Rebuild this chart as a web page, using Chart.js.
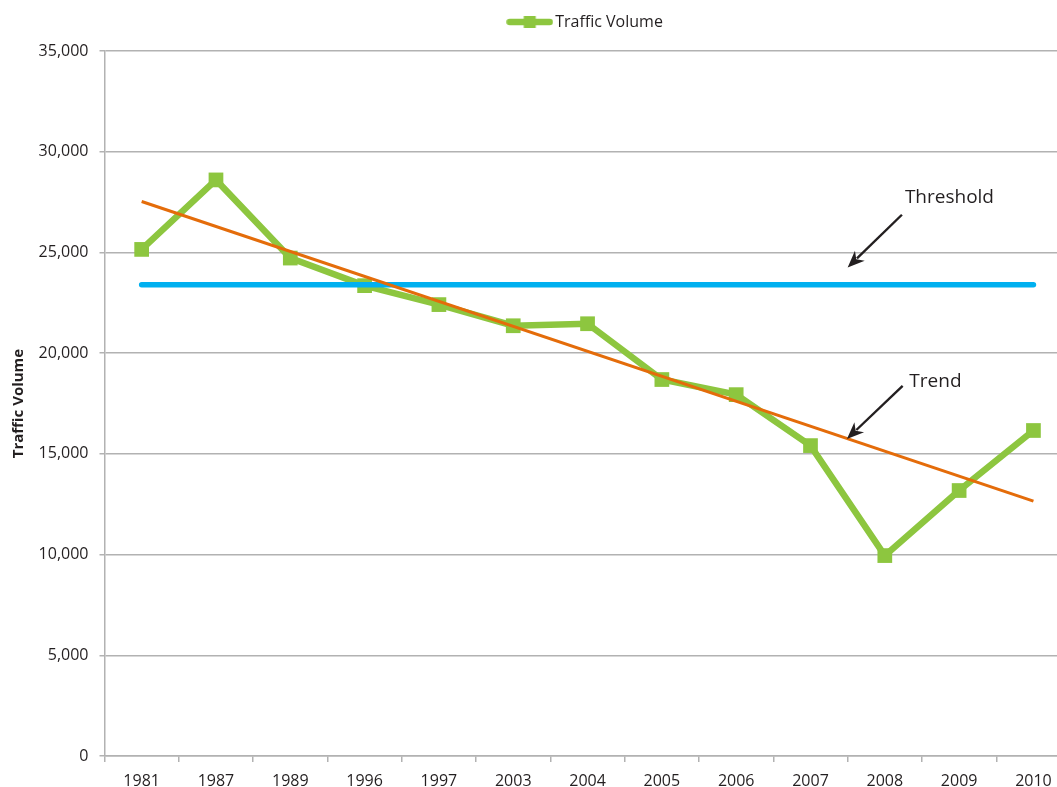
<!DOCTYPE html>
<html>
<head>
<meta charset="utf-8">
<script src="https://cdn.jsdelivr.net/npm/chart.js@4"></script>
<style>
  html, body { margin: 0; padding: 0; background: #fff; overflow: hidden; }
  #wrap { width: 1081px; height: 787px; }
</style>
</head>
<body>
<div id="wrap"><canvas id="chart" width="1081" height="787"></canvas></div>
<script>
const years = ["1981", "1987", "1989", "1996", "1997", "2003", "2004", "2005", "2006", "2007", "2008", "2009", "2010"];
const trafficVolume = [25150, 28600, 24720, 23350, 22410, 21360, 21460, 18690, 17940, 15410, 9950, 13180, 16160];
const thresholdValues = [23400, null, null, null, null, null, null, null, null, null, null, null, 23400];
const trendValues = [27530, null, null, null, null, null, null, null, null, null, null, null, 12650];
const yTicks = [0, 5000, 10000, 15000, 20000, 25000, 30000, 35000];

const GREEN = "#8DC63F";
const ORANGE = "#E46C0A";
const BLUE = "#00B0F0";
const GRID = "#B2B2B2";
const TEXT = "#231F20";
const FONT = "'Open Sans', 'DejaVu Sans', sans-serif";

// legend swatch: line with a square in the middle
const swatch = document.createElement("canvas");
swatch.width = 47;
swatch.height = 14;
(function () {
  const c = swatch.getContext("2d");
  c.strokeStyle = GREEN;
  c.lineWidth = 6.5;
  c.lineCap = "round";
  c.beginPath();
  c.moveTo(3.5, 7);
  c.lineTo(43.5, 7);
  c.stroke();
  c.fillStyle = GREEN;
  c.fillRect(17.5, 1, 12, 12);
})();

// arrows + labels, positioned in data units
const arrowNotes = [
  { text: "Threshold", tip: [9.5, 24250], tail: [10.23, 26870], label: [10.27, 27730] },
  { text: "Trend", tip: [9.49, 15740], tail: [10.24, 18370], label: [10.33, 18600] }
];

const arrowPlugin = {
  id: "arrowNotes",
  afterDatasetsDraw(chart) {
    const { ctx, scales: { x, y } } = chart;
    ctx.save();
    ctx.strokeStyle = TEXT;
    ctx.fillStyle = TEXT;
    ctx.lineWidth = 2.4;
    arrowNotes.forEach((n) => {
      const tx = x.getPixelForValue(n.tip[0]), ty = y.getPixelForValue(n.tip[1]);
      const sx = x.getPixelForValue(n.tail[0]), sy = y.getPixelForValue(n.tail[1]);
      const ang = Math.atan2(ty - sy, tx - sx);
      const len = 17, half = 7;
      const bx = tx - Math.cos(ang) * len, by = ty - Math.sin(ang) * len;
      ctx.beginPath();
      ctx.moveTo(sx, sy);
      ctx.lineTo(tx - Math.cos(ang) * (len - 4), ty - Math.sin(ang) * (len - 4));
      ctx.stroke();
      ctx.beginPath();
      ctx.moveTo(tx, ty);
      ctx.lineTo(bx + Math.sin(ang) * half, by - Math.cos(ang) * half);
      ctx.lineTo(tx - Math.cos(ang) * (len - 5), ty - Math.sin(ang) * (len - 5));
      ctx.lineTo(bx - Math.sin(ang) * half, by + Math.cos(ang) * half);
      ctx.closePath();
      ctx.fill();
      ctx.font = "19px " + FONT;
      ctx.textAlign = "left";
      ctx.textBaseline = "middle";
      ctx.fillText(n.text, x.getPixelForValue(n.label[0]), y.getPixelForValue(n.label[1]));
    });
    ctx.restore();
  }
};

const chart = new Chart(document.getElementById("chart"), {
  type: "line",
  data: {
    labels: years,
    datasets: [
      {
        label: "Traffic Volume",
        data: trafficVolume,
        borderColor: GREEN,
        backgroundColor: GREEN,
        borderWidth: 6.5,
        borderJoinStyle: "miter",
        pointStyle: "rect",
        pointRadius: 10.4,
        pointBorderWidth: 0,
        pointBackgroundColor: GREEN,
        tension: 0,
        order: 3
      },
      {
        label: "Threshold",
        data: thresholdValues,
        borderColor: BLUE,
        borderWidth: 5.5,
        borderCapStyle: "round",
        pointRadius: 0,
        spanGaps: true,
        order: 2
      },
      {
        label: "Trend",
        data: trendValues,
        borderColor: ORANGE,
        borderWidth: 3,
        pointRadius: 0,
        spanGaps: true,
        order: 1
      }
    ]
  },
  options: {
    responsive: false,
    animation: false,
    layout: { padding: { top: 2, left: 0, right: 0, bottom: 0 } },
    plugins: {
      legend: {
        position: "top",
        fullSize: false,
        labels: {
          usePointStyle: true,
          pointStyle: swatch,
          pointStyleWidth: 35,
          color: TEXT,
          font: { family: FONT, size: 16 },
          padding: 12,
          filter: (item) => item.datasetIndex === 0
        }
      },
      // empty spacer between legend and plot
      subtitle: {
        display: true,
        text: "",
        position: "top",
        weight: 500,
        font: { size: 11, lineHeight: 1 },
        padding: 0
      },
      tooltip: { enabled: false }
    },
    scales: {
      x: {
        offset: true,
        grid: { offset: true, drawOnChartArea: false, drawTicks: true, tickLength: 6, color: GRID, lineWidth: 1.5 },
        border: { display: true, color: GRID, width: 1.5 },
        ticks: { color: TEXT, font: { family: FONT, size: 16 }, padding: 10, maxRotation: 0, autoSkip: false },
        afterFit: (s) => { s.height = 31; }
      },
      y: {
        min: 0,
        max: 35000,
        afterBuildTicks: (s) => { s.ticks = yTicks.map((v) => ({ value: v })); },
        grid: { color: GRID, lineWidth: 1.5, tickLength: 5 },
        border: { display: true, color: GRID, width: 1.5 },
        ticks: {
          color: TEXT,
          font: { family: FONT, size: 16 },
          padding: 11,
          callback: (v) => v.toLocaleString("en-US")
        },
        title: {
          display: true,
          text: "Traffic Volume",
          color: TEXT,
          font: { family: FONT, size: 15, weight: "bold" },
          padding: { top: 10, bottom: 0 }
        },
        afterFit: (s) => { s.width = 104.5; }
      }
    }
  },
  plugins: [arrowPlugin]
});
</script>
</body>
</html>
